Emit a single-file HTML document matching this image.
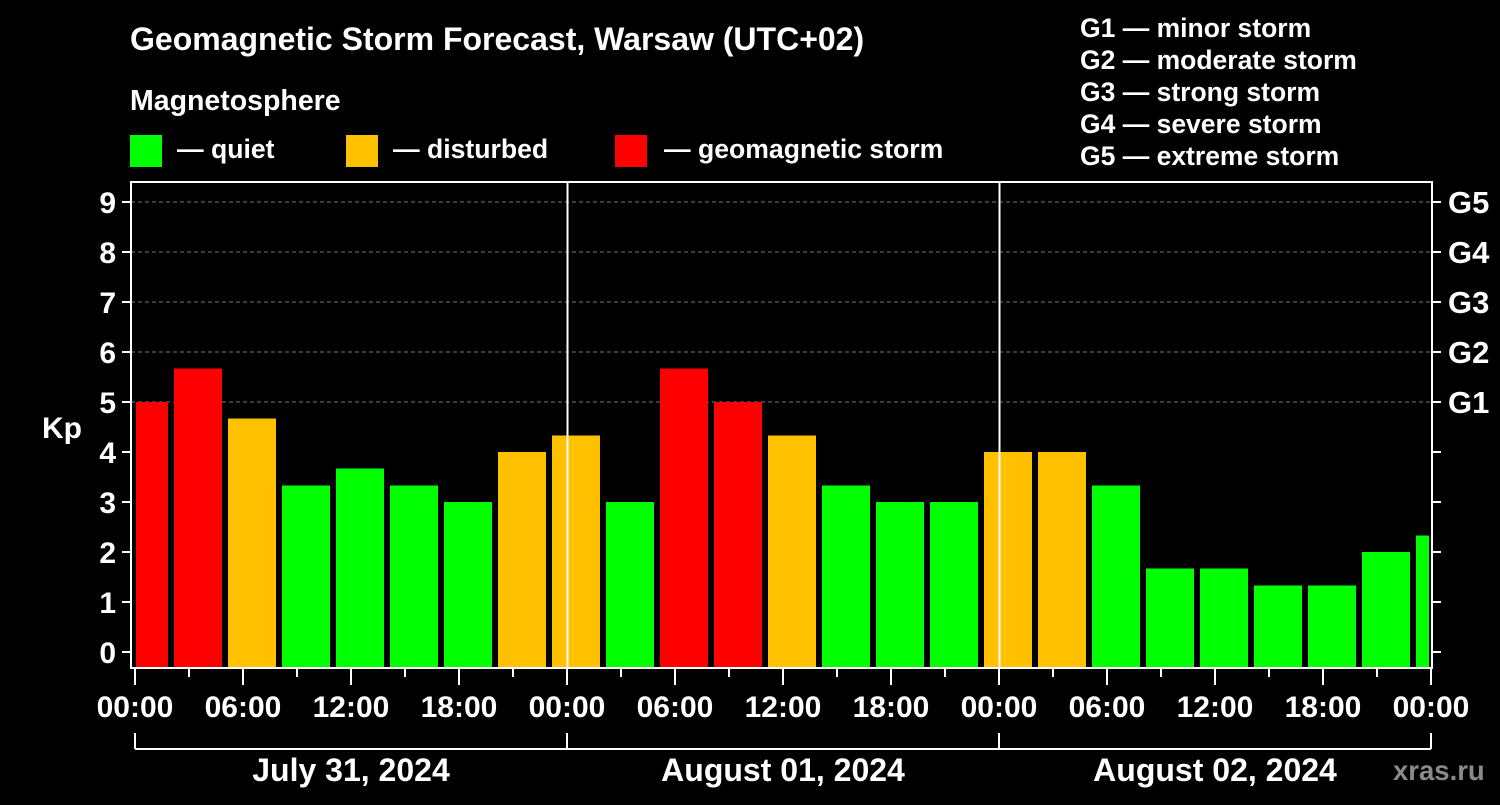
<!DOCTYPE html>
<html><head><meta charset="utf-8"><style>
body{margin:0;background:#000;width:1500px;height:800px;overflow:hidden;font-family:"Liberation Sans",sans-serif;}
svg text{font-family:"Liberation Sans",sans-serif;font-weight:bold;fill:#fff;}
</style></head><body>
<svg id="c" width="1500" height="800" xmlns="http://www.w3.org/2000/svg">
<text x="130" y="50" font-size="32">Geomagnetic Storm Forecast, Warsaw (UTC+02)</text>
<text x="130" y="110" font-size="28.5">Magnetosphere</text>
<g><rect x="130" y="135" width="32" height="32" fill="#00ff00"/><text x="177" y="158" font-size="26.6">— quiet</text></g>
<g><rect x="346" y="135" width="32" height="32" fill="#ffc000"/><text x="393" y="158" font-size="26.6">— disturbed</text></g>
<g><rect x="615" y="135" width="32" height="32" fill="#ff0000"/><text x="664" y="158" font-size="26.6">— geomagnetic storm</text></g>
<g font-size="26.5">
<text x="1080" y="37">G1 — minor storm</text>
<text x="1080" y="69">G2 — moderate storm</text>
<text x="1080" y="101">G3 — strong storm</text>
<text x="1080" y="133">G4 — severe storm</text>
<text x="1080" y="165">G5 — extreme storm</text>
</g>
<text x="42" y="438" font-size="30">Kp</text>
<text x="1393" y="780" font-size="27.5" style="fill:#8a8a8a">xras.ru</text>
<g id="grid"></g><g id="bars"></g><g id="axes"></g>
</svg>
<script>
const kpValues=[5,5.67,4.67,3.33,3.67,3.33,3,4, 4.33,3,5.67,5,4.33,3.33,3,3, 4,4,3.33,1.67,1.67,1.33,1.33,2, 2.33];
const yTicks=[0,1,2,3,4,5,6,7,8,9];
const gLabels=["G1","G2","G3","G4","G5"];
const gLevels=[5,6,7,8,9];
const xTickLabels=["00:00","06:00","12:00","18:00","00:00","06:00","12:00","18:00","00:00","06:00","12:00","18:00","00:00"];
const dayLabels=["July 31, 2024","August 01, 2024","August 02, 2024"];
const NS="http://www.w3.org/2000/svg";
const X0=135,PXH=18,Y0=652,PXK=50,L=131,R=1432,T=182,B=668;
const xs=h=>X0+h*PXH, ys=k=>Y0-k*PXK;
function mk(p,tag,a){const e=document.createElementNS(NS,tag);for(const k in a)e.setAttribute(k,a[k]);p.appendChild(e);return e;}
const grid=document.getElementById('grid'),bars=document.getElementById('bars'),axes=document.getElementById('axes');
gLevels.forEach((v,i)=>{
 const l=mk(grid,'line',{x1:L,x2:R,y1:ys(v),y2:ys(v),stroke:'#777','stroke-dasharray':'4,3','stroke-width':1});
 
 
 const t=mk(axes,'text',{x:1448,y:ys(v)+11,'font-size':31});t.textContent=gLabels[i];
 
 
});
const cp=mk(bars,'clipPath',{id:'cp'});mk(cp,'rect',{x:X0+1,y:T,width:R-X0-4,height:B-T});
bars.setAttribute('clip-path','url(#cp)');
kpValues.forEach((v,i)=>{
 const c=xs(0.5+3*i);
 const col=v>=5?'#ff0000':(v>=4?'#ffc000':'#00ff00');
 const r=mk(bars,'rect',{x:c-24,y:ys(v),width:48,height:B-ys(v),fill:col});
 
 
});
[24,48].forEach(h=>{const l=mk(axes,'line',{x1:xs(h)+0.5,x2:xs(h)+0.5,y1:T,y2:B,stroke:'#fff','stroke-width':2});
 
 });
const box=mk(axes,'rect',{x:L,y:T,width:R-L,height:B-T,fill:'none',stroke:'#fff','stroke-width':2});


yTicks.forEach(v=>{
 mk(axes,'line',{x1:L-9,x2:L,y1:ys(v),y2:ys(v),stroke:'#fff','stroke-width':2});
 mk(axes,'line',{x1:R,x2:R+9,y1:ys(v),y2:ys(v),stroke:'#fff','stroke-width':2});
 const t=mk(axes,'text',{x:116,y:ys(v)+11,'font-size':30,'text-anchor':'end'});t.textContent=v;
 
 
});
for(let h=0;h<=72;h+=3){const maj=h%6==0;mk(axes,'line',{x1:xs(h),x2:xs(h),y1:B,y2:B+(maj?17:9),stroke:'#fff','stroke-width':2});}
xTickLabels.forEach((s,i)=>{const t=mk(axes,'text',{x:xs(i*6),y:717,'font-size':30,'text-anchor':'middle'});t.textContent=s;
 
 });
mk(axes,'line',{x1:xs(0),x2:xs(72),y1:749,y2:749,stroke:'#fff','stroke-width':2});
for(let d=0;d<=3;d++)mk(axes,'line',{x1:xs(d*24),x2:xs(d*24),y1:733,y2:749,stroke:'#fff','stroke-width':2});
dayLabels.forEach((s,i)=>{const t=mk(axes,'text',{x:xs(i*24+12),y:781,'font-size':32,'text-anchor':'middle'});t.textContent=s;
 
 });
</script>
</body></html>
